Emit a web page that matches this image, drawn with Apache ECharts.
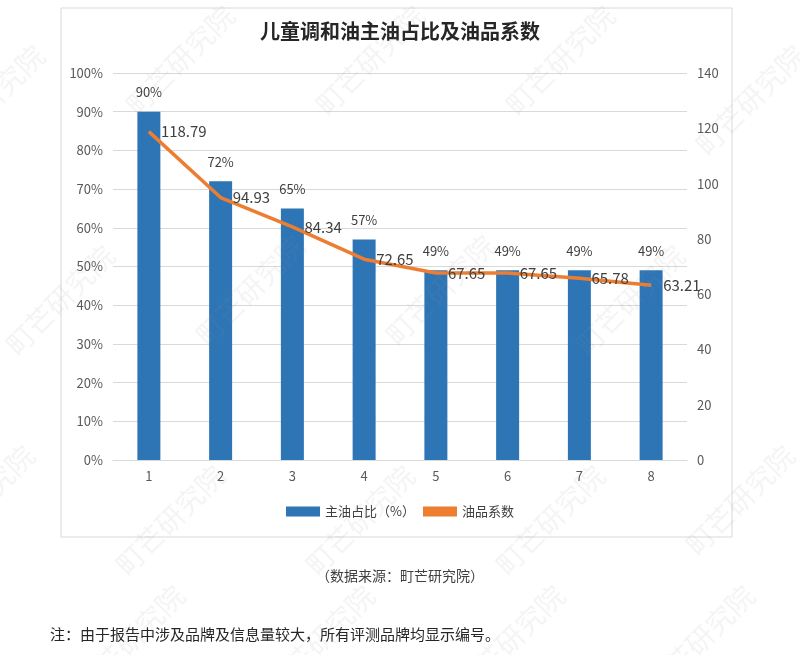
<!DOCTYPE html>
<html><head><meta charset="utf-8">
<script src="https://cdn.jsdelivr.net/npm/echarts@6/dist/echarts.min.js"></script>
<style>html,body{margin:0;padding:0;background:#fff;}#c{width:800px;height:655px;}</style>
</head><body><div id="c"></div>
<script>
const categories = ['1','2','3','4','5','6','7','8'];
const mainOilShare = [90, 72, 65, 57, 49, 49, 49, 49];
const oilCoefficient = [118.79, 94.93, 84.34, 72.65, 67.65, 67.65, 65.78, 63.21];
const titleText = '儿童调和油主油占比及油品系数';
const seriesNames = ['主油占比（%）', '油品系数'];
const sourceText = '（数据来源：町芒研究院）';
const noteText = '注：由于报告中涉及品牌及信息量较大，所有评测品牌均显示编号。';
const watermarkText = '町芒研究院';

const font = '"Noto Sans CJK SC", "Noto Sans", sans-serif';
const chart = echarts.init(document.getElementById('c'), null, {renderer: 'canvas'});

const wm = [];
const wmPos = [[-10,100],[180,60],[370,60],[560,60],[750,100],[60,300],[250,290],[440,290],[630,300],[-20,500],[170,520],[360,520],[550,520],[740,500],[130,640],[320,640],[510,640],[700,640]];
wmPos.forEach(p => wm.push({
  type: 'text', x: p[0], y: p[1], rotation: Math.PI/4, z: 100,
  style: {text: watermarkText, fill: 'rgba(150,150,150,0.10)', font: '28px ' + font, textAlign: 'center', textVerticalAlign: 'middle'}
}));

chart.setOption({
  animation: false,
  title: {text: titleText, left: 'center', top: 16, textStyle: {fontFamily: font, fontSize: 20, fontWeight: 'bold', color: '#262626'}},
  graphic: [
    {type: 'rect', shape: {x: 61, y: 8, width: 671, height: 529}, style: {fill: 'none', stroke: '#d9d9d9', lineWidth: 1}, z: -1},
    {type: 'text', x: 400, y: 576, style: {text: sourceText, fill: '#404040', font: '14px ' + font, textAlign: 'center', textVerticalAlign: 'middle'}},
    {type: 'text', x: 50, y: 634, style: {text: noteText, fill: '#262626', font: '15px ' + font, textAlign: 'left', textVerticalAlign: 'middle'}}
  ].concat(wm),
  legend: {
    bottom: 132, left: 'center', itemWidth: 34, itemHeight: 10, itemGap: 8,
    textStyle: {fontFamily: font, fontSize: 13, color: '#404040'},
    data: [{name: seriesNames[0], icon: 'rect'}, {name: seriesNames[1], icon: 'rect', itemStyle: {color: '#ED7D31'}}]
  },
  grid: {left: 113, right: 113, top: 73, bottom: 195},
  xAxis: {
    type: 'category', data: categories,
    axisLine: {lineStyle: {color: '#d9d9d9'}}, axisTick: {show: false},
    axisLabel: {color: '#595959', fontSize: 13, fontFamily: font, margin: 10}
  },
  yAxis: [
    {type: 'value', min: 0, max: 100, interval: 10,
     axisLabel: {formatter: '{value}%', color: '#595959', fontSize: 13, fontFamily: font, margin: 10},
     splitLine: {lineStyle: {color: '#d9d9d9'}}, axisLine: {show: false}, axisTick: {show: false}},
    {type: 'value', min: 0, max: 140, interval: 20,
     axisLabel: {color: '#595959', fontSize: 13, fontFamily: font, margin: 10},
     splitLine: {show: false}, axisLine: {show: false}, axisTick: {show: false}}
  ],
  series: [
    {name: seriesNames[0], type: 'bar', yAxisIndex: 0, data: mainOilShare, barWidth: 23,
     itemStyle: {color: '#2E75B6'},
     label: {show: true, position: 'top', distance: 13, formatter: '{c}%', color: '#404040', fontSize: 13, fontFamily: font}},
    {name: seriesNames[1], type: 'line', yAxisIndex: 1, data: oilCoefficient,
     symbol: 'circle', symbolSize: 0.01, showSymbol: true,
     lineStyle: {color: '#ED7D31', width: 3.5}, itemStyle: {color: '#ED7D31'},
     label: {show: true, position: 'right', distance: 12, color: '#404040', fontSize: 15, fontFamily: font,
       formatter: p => p.value.toFixed(2)}}
  ]
});
</script></body></html>
